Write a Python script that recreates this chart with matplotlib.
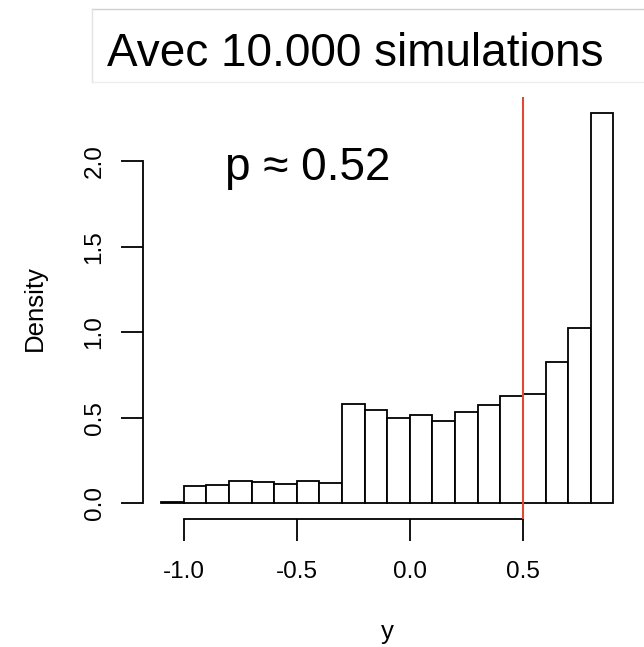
import matplotlib
matplotlib.use('Agg')
import matplotlib.pyplot as plt
from matplotlib.lines import Line2D
import numpy as np

plt.rcParams['font.family'] = ['Liberation Sans', 'DejaVu Sans']

# histogram bins (width 0.1) and densities
bin_edges = [-1.1, -1.0, -0.9, -0.8, -0.7, -0.6, -0.5, -0.4, -0.3, -0.2, -0.1,
             0.0, 0.1, 0.2, 0.3, 0.4, 0.5, 0.6, 0.7, 0.8, 0.9]
density = [0.010, 0.104, 0.109, 0.129, 0.125, 0.111, 0.133, 0.119, 0.579, 0.544,
           0.498, 0.518, 0.484, 0.535, 0.576, 0.625, 0.639, 0.826, 1.028, 2.285]
threshold = 0.5
p_label = 'p ≈ 0.52'
title = 'Avec 10.000 simulations'
xticks = [-1.0, -0.5, 0.0, 0.5]
yticks = [0.0, 0.5, 1.0, 1.5, 2.0]

W, H = 644, 647
fig = plt.figure(figsize=(W / 100, H / 100), dpi=100)
ax = fig.add_axes([143 / W, 1 - 519 / H, (631.5 - 143) / W, (519 - 97) / H])

edges = np.array(bin_edges)
ax.bar(edges[:-1], density, width=np.diff(edges), align='edge',
       facecolor='white', edgecolor='black', linewidth=1.3, zorder=2)
ax.axvline(threshold, color='#e04a35', linewidth=1.5, zorder=3)

# R-like axis ranges (4% padding)
xr = edges[-1] - edges[0]
ax.set_xlim(edges[0] - 0.04 * xr, edges[-1] + 0.04 * xr)
ymax = max(density)
ax.set_ylim(-0.04 * ymax, ymax * 1.04)

for s in ['top', 'right']:
    ax.spines[s].set_visible(False)
ax.spines['left'].set_bounds(yticks[0], yticks[-1])
ax.spines['bottom'].set_bounds(xticks[0], xticks[-1])
for s in ['left', 'bottom']:
    ax.spines[s].set_linewidth(1.3)

ax.set_xticks(xticks)
ax.set_xticklabels(['%.1f' % v for v in xticks])
ax.set_yticks(yticks)
ax.set_yticklabels(['%.1f' % v for v in yticks], rotation=90, va='center')
ax.tick_params(direction='out', length=16, width=1.3, labelsize=17.5)
ax.tick_params(axis='x', pad=14)
ax.tick_params(axis='y', pad=11)

fig.text(387 / W, 1 - 632 / H, 'y', ha='center', va='center', fontsize=18.5)
fig.text(35 / W, 1 - 308 / H, 'Density', ha='center', va='center',
         rotation=90, fontsize=18.5)

ax.text(-0.451, 1.96, p_label, ha='center', va='center', fontsize=33)

# title frame: grey top and left edges, faint bottom edge
x0, x1 = 92 / W, 1.0
y_top, y_bot = 1 - 9 / H, 1 - 82 / H
fig.add_artist(Line2D([x0, x1], [y_top, y_top], color='#cfcfcf', lw=1,
                      transform=fig.transFigure))
fig.add_artist(Line2D([x0, x0], [y_bot, y_top], color='#e2e2e2', lw=1,
                      transform=fig.transFigure))
fig.add_artist(Line2D([x0, x1], [y_bot, y_bot], color='#ededed', lw=1,
                      transform=fig.transFigure))
fig.text(355 / W, 1 - 54 / H, title, ha='center', va='center', fontsize=33)

fig.savefig('out.png', dpi=100)
